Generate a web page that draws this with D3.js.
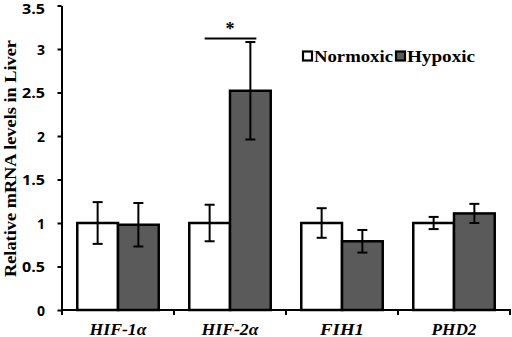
<!DOCTYPE html>
<html><head><meta charset="utf-8">
<script src="https://cdn.jsdelivr.net/npm/d3@7"></script>
<style>body{margin:0;background:#fff}svg{display:block}</style>
</head><body>
<svg id="c" width="512" height="337"></svg>
<script>
const categories = ["HIF-1α","HIF-2α","FIH1","PHD2"];
const series = ["Normoxic","Hypoxic"];
const normoxic = [1.00, 1.00, 1.00, 1.00];
const normoxicErr = [0.24, 0.21, 0.17, 0.07];
const hypoxic = [0.98, 2.52, 0.79, 1.11];
const hypoxicErr = [0.25, 0.56, 0.13, 0.11];
const yTicks = [0, 0.5, 1, 1.5, 2, 2.5, 3, 3.5];
const yTickLabels = ["0","0.5","1","1.5","2","2.5","3","3.5"];
const sig = [{category:"HIF-2α", label:"*"}];

const svg = d3.select("#c");
const x0 = 62, x1 = 510, yTop = 5.5, yBot = 310;
const x = d3.scaleBand().domain(categories).range([x0, x1]).paddingInner(0).paddingOuter(0);
const xs = d3.scaleBand().domain(series).range([0, x.bandwidth()]).paddingInner(0).paddingOuter(0.375);
const y = d3.scaleLinear().domain([0, 3.5]).range([yBot, yTop]);
const colors = {Normoxic:"#ffffff", Hypoxic:"#5a5a5a"};
const serif = "'Liberation Serif', 'Times New Roman', serif";

const data = [];
categories.forEach((c,i)=>{
  data.push({c, s:"Normoxic", v:normoxic[i], e:normoxicErr[i]});
  data.push({c, s:"Hypoxic", v:hypoxic[i], e:hypoxicErr[i]});
});

// y axis
const yAxis = d3.axisLeft(y).tickValues(yTicks).tickFormat((d,i)=>yTickLabels[i]).tickSize(4).tickSizeOuter(0);
const gy = svg.append("g").attr("transform","translate(61.5,0)").call(yAxis);
gy.select(".domain").attr("stroke","#000").attr("stroke-width",2);
gy.selectAll(".tick line").attr("stroke","#000").attr("stroke-width",2);
gy.selectAll(".tick text").attr("font-family","'Open Sans', Lato, sans-serif").attr("font-weight","bold")
  .attr("font-size",14).attr("fill","#000").attr("x",-16.5).attr("dy",d=>d===3.5?"0.6em":"0.36em")
  .each(function(d,i){ const t=yTickLabels[i]; d3.select(this).attr("textLength", t.length>1?23:8).attr("lengthAdjust","spacingAndGlyphs"); });

// bars
svg.append("g").selectAll("rect").data(data).join("rect")
  .attr("x", d=>x(d.c)+xs(d.s)).attr("width", xs.bandwidth())
  .attr("y", d=>y(d.v)).attr("height", d=>y(0)-y(d.v))
  .attr("fill", d=>colors[d.s]).attr("stroke","#000").attr("stroke-width",2.5);

// error bars
const eg = svg.append("g").attr("stroke","#000").attr("stroke-width",2);
data.forEach(d=>{
  const cx = x(d.c)+xs(d.s)+xs.bandwidth()/2;
  eg.append("line").attr("x1",cx).attr("x2",cx).attr("y1",y(d.v+d.e)).attr("y2",y(d.v-d.e));
  [d.v+d.e, d.v-d.e].forEach(v=>eg.append("line").attr("x1",cx-5).attr("x2",cx+5).attr("y1",y(v)).attr("y2",y(v)));
});

// x axis
const xAxisLine = svg.append("g");
xAxisLine.append("line").attr("x1",61).attr("x2",511).attr("y1",yBot).attr("y2",yBot).attr("stroke","#000").attr("stroke-width",2);
const bounds = categories.map(c=>x(c)).concat([x1]);
xAxisLine.selectAll("line.t").data(bounds).join("line").attr("class","t")
  .attr("x1",d=>d).attr("x2",d=>d).attr("y1",yBot).attr("y2",yBot+5).attr("stroke","#000").attr("stroke-width",2);
const xLabelLen = {"HIF-1α":57,"HIF-2α":57,"FIH1":44,"PHD2":45};
svg.append("g").selectAll("text").data(categories).join("text")
  .attr("x", c=>x(c)+x.bandwidth()/2).attr("y",334.5).attr("text-anchor","middle")
  .attr("font-family",serif).attr("font-weight","bold").attr("font-style","italic")
  .attr("font-size",17.5).attr("textLength",c=>xLabelLen[c]).attr("lengthAdjust","spacingAndGlyphs").text(c=>c);

// significance
sig.forEach(s=>{
  const cn = x(s.category)+xs("Normoxic")+xs.bandwidth()/2;
  const ch = x(s.category)+xs("Hypoxic")+xs.bandwidth()/2;
  svg.append("line").attr("x1",cn-5).attr("x2",ch+6).attr("y1",38.5).attr("y2",38.5).attr("stroke","#000").attr("stroke-width",2);
  svg.append("text").attr("x",(cn+ch)/2).attr("y",35).attr("text-anchor","middle").attr("fill","#000")
    .attr("font-family",serif).attr("font-weight","bold").attr("font-size",18).text(s.label);
});

// y label
svg.append("text").attr("transform","translate(15.5,158.5) rotate(-90)").attr("text-anchor","middle")
  .attr("font-family",serif).attr("font-weight","bold").attr("font-size",17)
  .attr("textLength",237).attr("lengthAdjust","spacingAndGlyphs")
  .text("Relative mRNA levels in Liver");

// legend
const leg = svg.append("g");
const legX = [302, 395];
const legLen = [79, 68];
series.forEach((s,i)=>{
  leg.append("rect").attr("x",legX[i]+1).attr("y",51.5).attr("width",9).attr("height",9)
    .attr("fill",colors[s]).attr("stroke","#000").attr("stroke-width",2.2);
  leg.append("text").attr("x",legX[i]+12).attr("y",62)
    .attr("font-family",serif).attr("font-weight","bold").attr("font-size",17.5)
    .attr("textLength",legLen[i]).attr("lengthAdjust","spacingAndGlyphs")
    .text(s);
});
</script>
</body></html>
